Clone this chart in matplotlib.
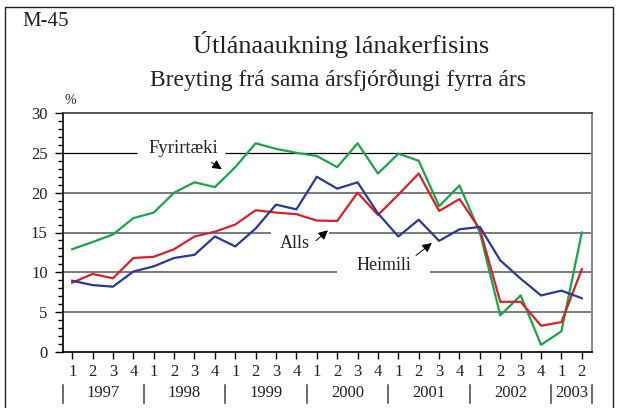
import numpy as np
import matplotlib
matplotlib.use("Agg")
import matplotlib.pyplot as plt
from matplotlib.patches import Rectangle
from matplotlib.lines import Line2D

plt.rcParams["font.family"] = ["Liberation Serif", "DejaVu Serif"]

# --- data ---
years = ["1997", "1998", "1999", "2000", "2001", "2002", "2003"]
quarters = ["1", "2", "3", "4"] * 6 + ["1", "2"]

fyrirtaeki = [12.9, 13.8, 14.75, 16.8, 17.5, 20.0, 21.3, 20.7, 23.2, 26.2, 25.5, 25.0,
              24.6, 23.2, 26.2, 22.4, 24.9, 24.0, 18.3, 20.9, 15.0, 4.6, 7.1, 0.9,
              2.6, 15.0]
alls = [8.7, 9.8, 9.25, 11.8, 11.95, 12.9, 14.5, 15.1, 16.0, 17.8, 17.5, 17.3,
        16.5, 16.45, 20.0, 17.2, 19.75, 22.4, 17.7, 19.2, 15.4, 6.3, 6.3, 3.3,
        3.75, 10.4]
heimili = [8.95, 8.4, 8.2, 10.1, 10.75, 11.8, 12.2, 14.5, 13.25, 15.5, 18.5, 17.9,
           22.0, 20.5, 21.3, 17.4, 14.5, 16.6, 13.95, 15.4, 15.7, 11.5, 9.2, 7.1,
           7.7, 6.75]

GREEN = "#1ba34b"
RED = "#d2232a"
BLUE = "#2b3990"
TXT = "#222222"

fig = plt.figure(figsize=(6.21, 4.08), dpi=100)
ax = fig.add_axes([63 / 621, 1 - 352 / 408, (592 - 63) / 621, (352 - 113) / 408])

x = np.arange(len(quarters))
xlim = (-0.45, 25.5)
ax.set_xlim(*xlim)
ax.set_ylim(0, 30)

# --- horizontal rules, broken where the labels sit ---
gaps = {25: (3.2, 7.5), 15: (9.75, 12.6), 10: (13.0, 17.55)}
for level in [5, 10, 15, 20, 25]:
    col, lw = ("black", 0.9) if level == 25 else ("#6f6f6f", 1.3)
    if level in gaps:
        a, b = gaps[level]
        ax.hlines(level, xlim[0], a, color=col, lw=lw, zorder=0.5)
        ax.hlines(level, b, xlim[1], color=col, lw=lw, zorder=0.5)
    else:
        ax.hlines(level, xlim[0], xlim[1], color=col, lw=lw, zorder=0.5)

# --- series ---
ax.plot(x, fyrirtaeki, color=GREEN, lw=1.6, zorder=3)
ax.plot(x, alls, color=RED, lw=1.6, zorder=3)
ax.plot(x, heimili, color=BLUE, lw=1.6, zorder=3)

# --- spines / ticks ---
ax.spines["left"].set_color("black")
ax.spines["bottom"].set_color("black")
ax.spines["left"].set_linewidth(1.2)
ax.spines["bottom"].set_linewidth(1.2)
ax.spines["top"].set_color("#3a3a3a")
ax.spines["top"].set_linewidth(1.2)
ax.spines["right"].set_color("#8a8a8a")
ax.spines["right"].set_linewidth(1.5)

ax.set_yticks(np.arange(0, 31, 5))
ax.set_yticks(np.arange(0, 31, 1), minor=True)
ax.tick_params(axis="y", which="major", direction="out", length=6, width=1,
               labelsize=12, pad=5, labelcolor=TXT)
ax.tick_params(axis="y", which="minor", direction="out", length=3.6, width=1)
ax.set_xticks(x)
ax.set_xticklabels(quarters)
ax.tick_params(axis="x", which="major", direction="out", length=5, width=1,
               labelsize=12, pad=4, labelcolor=TXT)

# year labels and separators under the quarter labels
tr = ax.get_xaxis_transform()
year_centers = [1.5 + 4 * k for k in range(6)] + [24.5]
for yr, xc in zip(years, year_centers):
    ax.text(xc, -0.172, yr, transform=tr, ha="center", va="center", fontsize=12,
            color=TXT)
seps = [xlim[0]] + [3.5 + 4 * k for k in range(6)] + [xlim[1]]
for s in seps:
    ax.add_line(Line2D([s, s], [-0.138, -0.215], transform=tr, color="#444444",
                       lw=1.1, clip_on=False))

# --- series labels with arrows ---
arrow = dict(arrowstyle="-|>", color="black", lw=0.7, mutation_scale=14)
ax.text(5.44, 25.5, "Fyrirtæki", ha="center", va="center", fontsize=13.5, color=TXT)
ax.annotate("", xy=(7.45, 22.75), xytext=(6.72, 24.0), arrowprops=arrow)
ax.text(10.9, 13.6, "Alls", ha="center", va="center", fontsize=13, color=TXT)
ax.annotate("", xy=(12.65, 15.5), xytext=(11.86, 13.75), arrowprops=arrow)
ax.text(15.27, 10.9, "Heimili", ha="center", va="center", fontsize=13, color=TXT)
ax.annotate("", xy=(17.75, 13.9), xytext=(16.76, 11.9), arrowprops=arrow)

# --- titles and frame ---
fig.text(0.549, 0.890, "Útlánaaukning lánakerfisins", ha="center", va="center",
         fontsize=19, color=TXT)
fig.text(0.545, 0.804, "Breyting frá sama ársfjórðungi fyrra árs", ha="center",
         va="center", fontsize=17, color=TXT)
fig.text(22 / 621, 0.947, "M-45", ha="left", va="center", fontsize=15, color=TXT)
fig.text(70 / 621, 1 - 100 / 408, "%", ha="center", va="center", fontsize=10,
         color=TXT)

fig.patches.append(Rectangle((5 / 621, -0.1), 608 / 621, 1 - 7 / 408 + 0.1,
                             transform=fig.transFigure, fill=False,
                             edgecolor="#222222", lw=1.0))

fig.savefig("out.png", dpi=100)
